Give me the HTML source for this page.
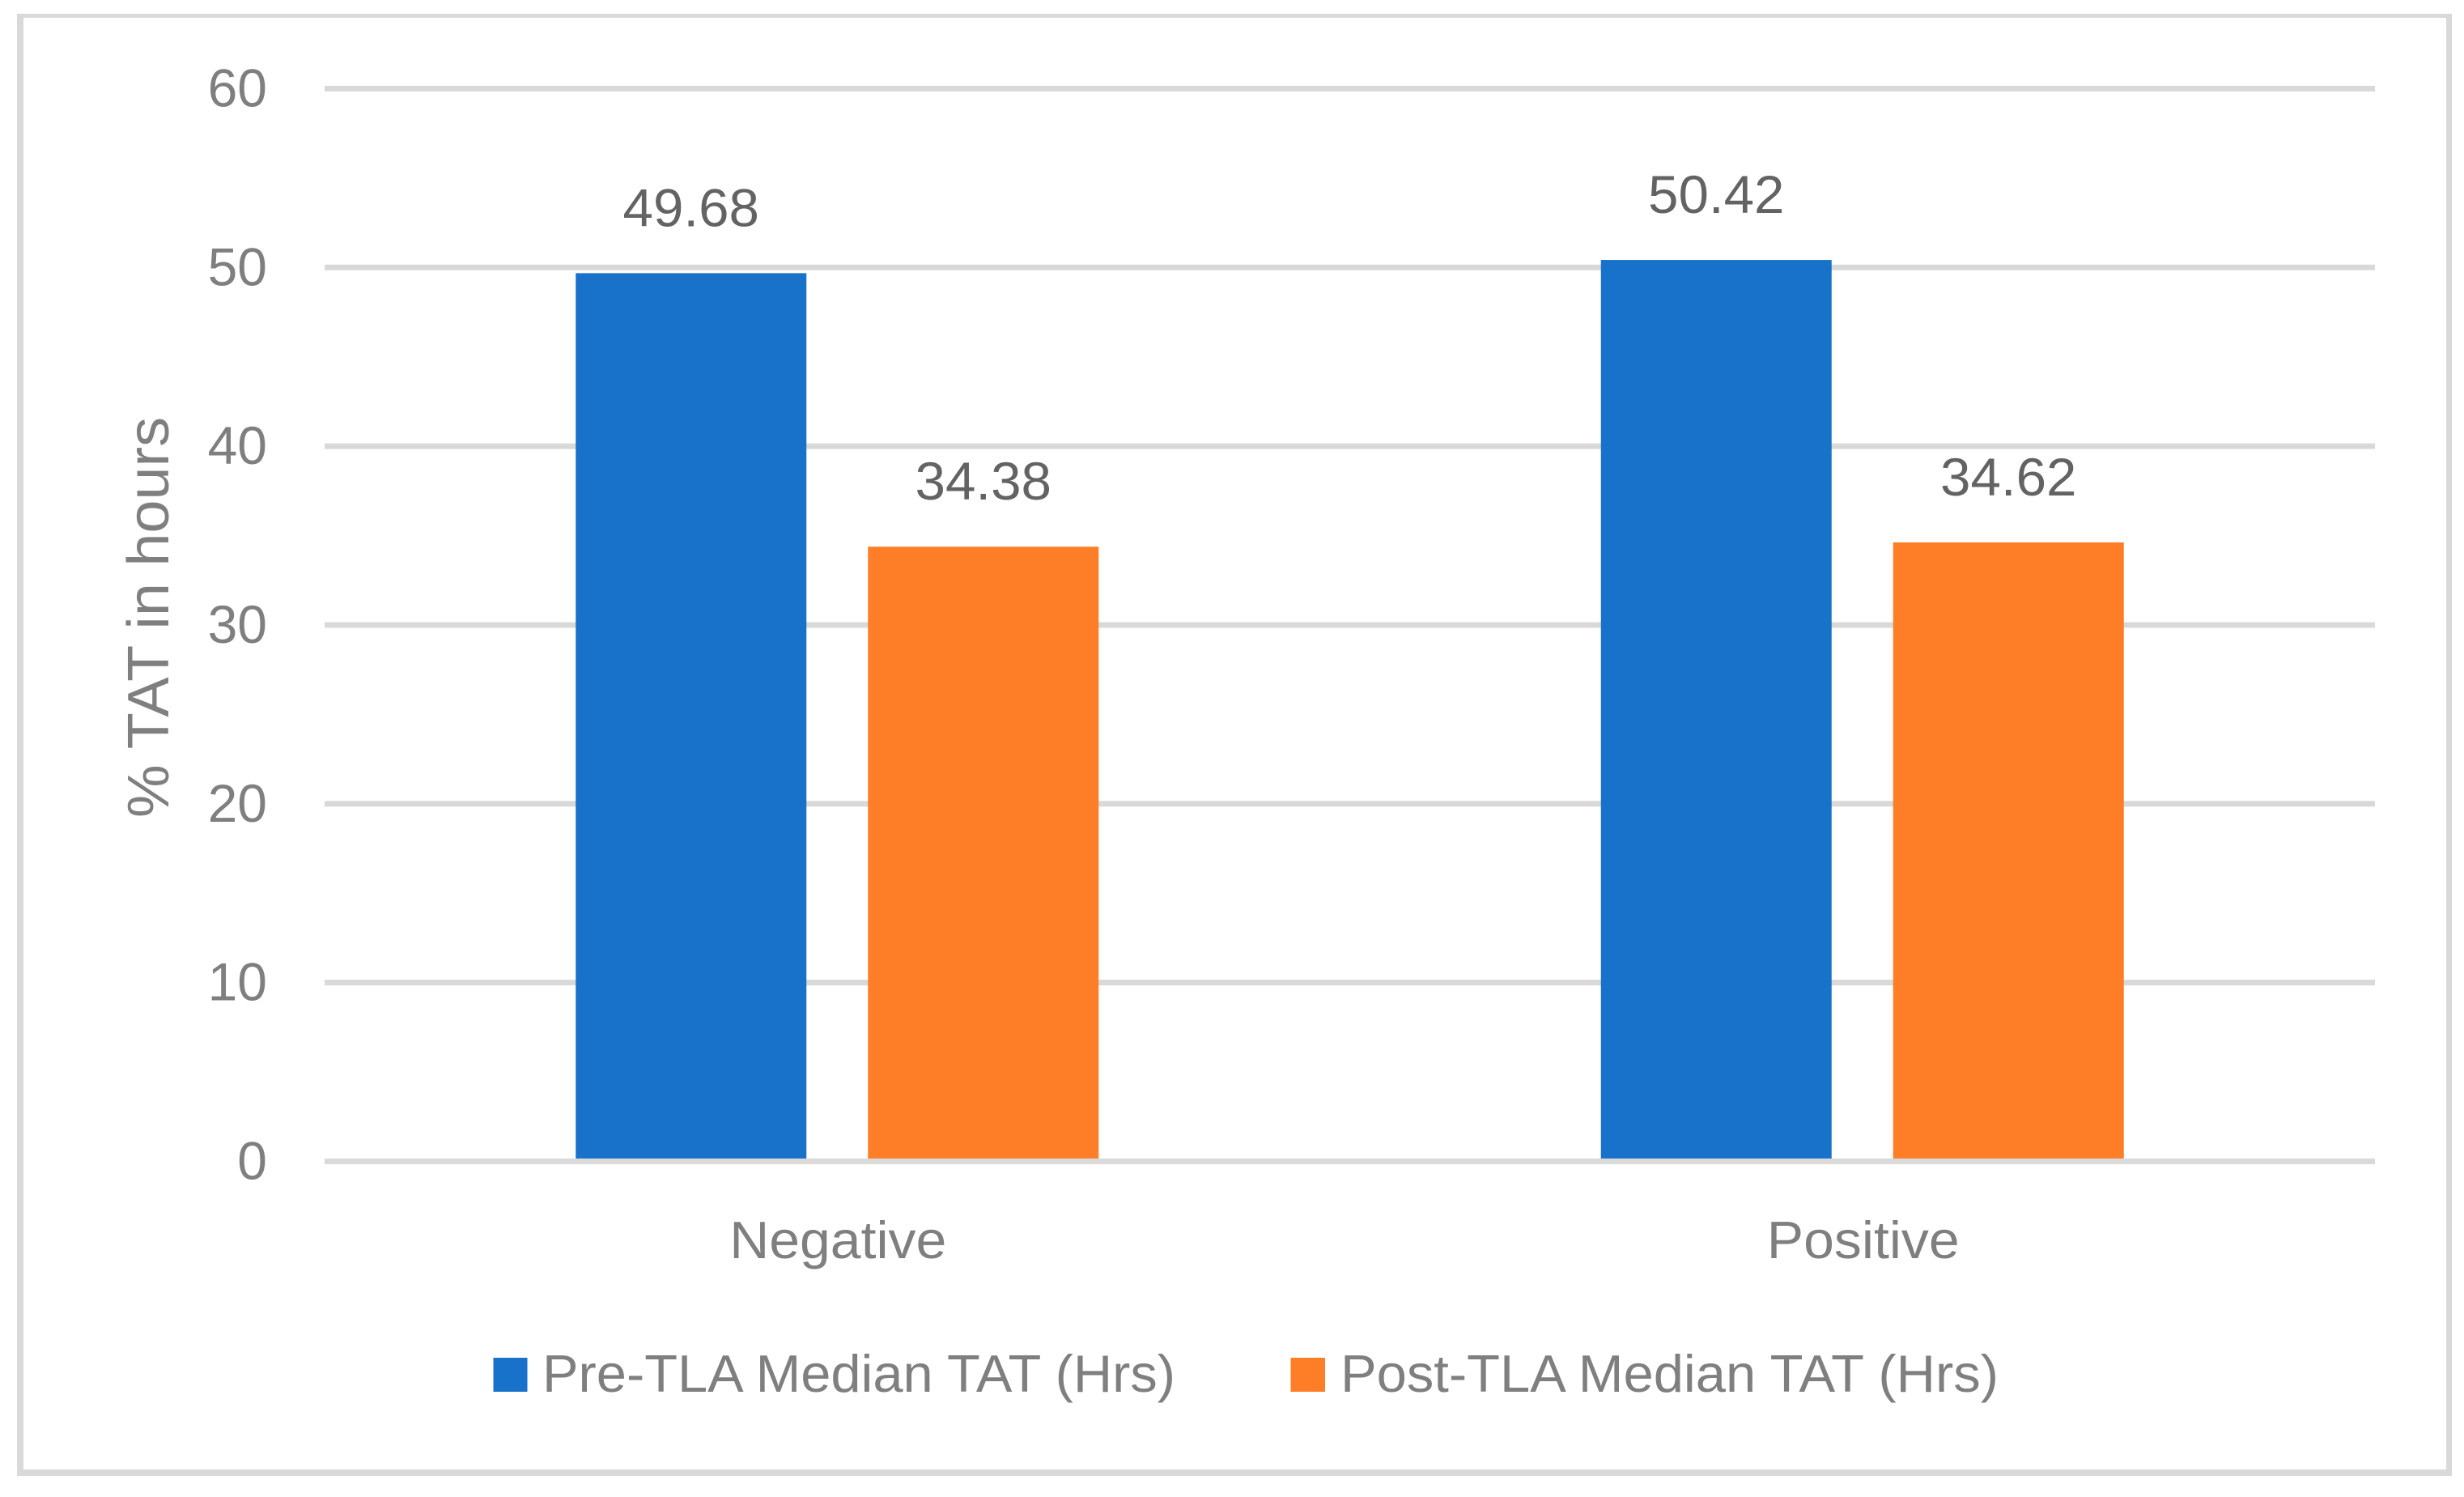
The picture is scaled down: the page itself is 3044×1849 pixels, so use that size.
<!DOCTYPE html>
<html lang="en">
<head>
<meta charset="utf-8">
<title>Median TAT chart</title>
<style>
  html, body { margin: 0; padding: 0; background: #ffffff; }
  svg { display: block; }
  text { font-family: "Liberation Sans", sans-serif; }
</style>
</head>
<body>
<svg id="chart" xmlns="http://www.w3.org/2000/svg" width="3044" height="1849" viewBox="0 0 3044 1849">
  <rect x="0" y="0" width="3044" height="1849" fill="#ffffff"/>
  <g fill="#d9d9d9">
    <rect x="21" y="17" width="3008" height="5"/>
    <rect x="21" y="17" width="8" height="1806"/>
    <rect x="3022" y="17" width="7" height="1806"/>
    <rect x="21" y="1815" width="3008" height="8"/>
  </g>
  <g id="grid"></g>
  <g id="yticks"></g>
  <g id="bars"></g>
  <g id="values"></g>
  <g id="xaxis"></g>
  <text transform="translate(208,1010) rotate(-90)" font-size="72" fill="#7f7f7f" textLength="495" lengthAdjust="spacingAndGlyphs">% TAT in hours</text>
  <g>
    <rect x="609.5" y="1677" width="42" height="42" fill="#1872c9"/>
    <text x="670" y="1719" font-size="65" fill="#7f7f7f" textLength="782" lengthAdjust="spacingAndGlyphs">Pre-TLA Median TAT (Hrs)</text>
    <rect x="1594.5" y="1677" width="42.5" height="42" fill="#fe7e27"/>
    <text x="1656" y="1719" font-size="65" fill="#7f7f7f" textLength="813" lengthAdjust="spacingAndGlyphs">Post-TLA Median TAT (Hrs)</text>
  </g>
</svg>
<script>
const categories = ['Negative', 'Positive'];
const preTlaValues = [49.68, 50.42];
const postTlaValues = [34.38, 34.62];
const tickLabels = [0, 10, 20, 30, 40, 50, 60];

const NS = 'http://www.w3.org/2000/svg';
const plotLeft = 401, plotRight = 2934, plotTop = 109.5, plotBottom = 1434.4;
const axisMax = 60, barWidth = 285, barGap = 76, lineThickness = 7;

function yScale(v) {
  return plotBottom - (v / axisMax) * (plotBottom - plotTop);
}
function xBand(i) {
  const band = (plotRight - plotLeft) / categories.length;
  return plotLeft + band * (i + 0.5);
}
function make(tag, attrs, parent, content) {
  const el = document.createElementNS(NS, tag);
  for (const k in attrs) el.setAttribute(k, attrs[k]);
  if (content !== undefined) el.textContent = content;
  parent.appendChild(el);
  return el;
}
function widen(el, factor) {
  el.setAttribute('textLength', el.getComputedTextLength() * factor);
  el.setAttribute('lengthAdjust', 'spacingAndGlyphs');
}

const gridG = document.getElementById('grid');
const tickG = document.getElementById('yticks');
const barsG = document.getElementById('bars');
const valuesG = document.getElementById('values');
const xaxisG = document.getElementById('xaxis');

tickLabels.forEach(function (t) {
  const y = yScale(t);
  if (t !== 0) {
    const line = make('rect', { x: plotLeft, y: y - lineThickness / 2, width: plotRight - plotLeft, height: lineThickness, fill: '#d9d9d9' }, gridG);
    
    
  }
  const label = make('text', { x: 330, y: y + 22, 'text-anchor': 'end', 'font-size': 66, fill: '#7f7f7f' }, tickG, String(t));
  
  
});

categories.forEach(function (cat, i) {
  const cx = xBand(i);
  const series = [
    { key: 'pre-tla', value: preTlaValues[i], x: cx - barGap / 2 - barWidth, fill: '#1872c9' },
    { key: 'post-tla', value: postTlaValues[i], x: cx + barGap / 2, fill: '#fe7e27' }
  ];
  series.forEach(function (s) {
    const top = yScale(s.value);
    const bar = make('rect', { x: s.x, y: top, width: barWidth, height: plotBottom - top, fill: s.fill }, barsG);
    
    
    const val = make('text', { x: s.x + barWidth / 2, y: top - 58, 'text-anchor': 'middle', 'font-size': 66, fill: '#636363' }, valuesG, s.value.toFixed(2));
    
    
    widen(val, 1.02);
  });
  const catLabel = make('text', { x: cx + 1, y: 1554, 'text-anchor': 'middle', 'font-size': 65, fill: '#7f7f7f' }, xaxisG, cat);
  
  
  widen(catLabel, 1.045);
});

const axisLine = make('rect', { x: plotLeft, y: plotBottom - lineThickness / 2, width: plotRight - plotLeft, height: lineThickness, fill: '#d9d9d9' }, xaxisG);


</script>
</body>
</html>
